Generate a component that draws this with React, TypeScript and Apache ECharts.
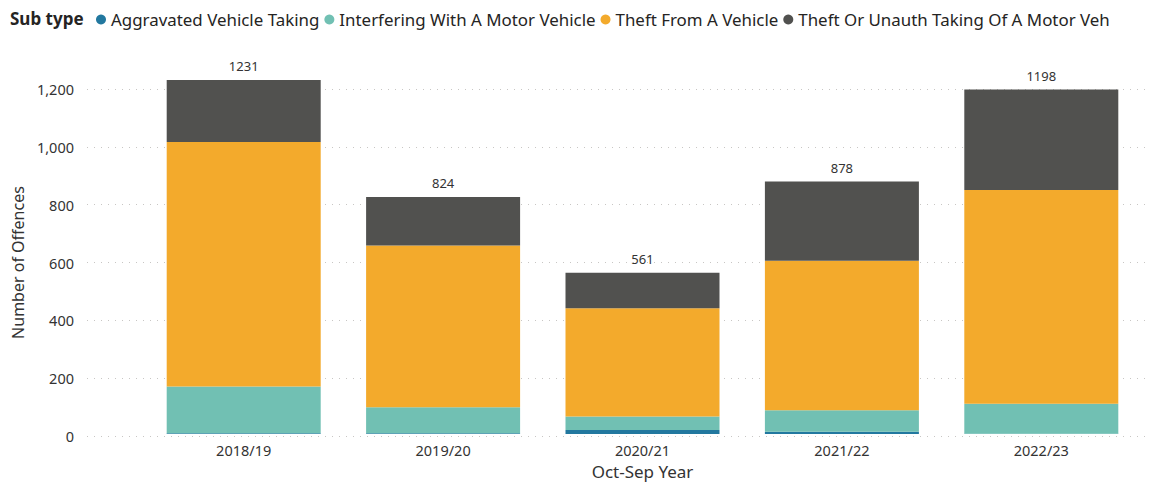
import React, { useEffect, useRef } from "react";
import * as echarts from "echarts";

const categories = ["2018/19", "2019/20", "2020/21", "2021/22", "2022/23"];
const aggravated = [3, 3, 14, 8, 1];
const interfering = [162, 90, 47, 75, 104];
const theftFrom = [850, 562, 376, 519, 743];
const theftOrUnauth = [216, 169, 124, 276, 350];
const seriesNames = [
  "Aggravated Vehicle Taking",
  "Interfering With A Motor Vehicle",
  "Theft From A Vehicle",
  "Theft Or Unauth Taking Of A Motor Veh",
];
const colors = ["#22789F", "#71C0B3", "#F3AA2C", "#51514F"];
const totals = categories.map(
  (_, i) => aggravated[i] + interfering[i] + theftFrom[i] + theftOrUnauth[i]
);

const FONT = "'Segoe UI', 'Noto Sans', sans-serif";

export default function App() {
  const ref = useRef<HTMLDivElement>(null);
  useEffect(() => {
    if (!ref.current) return;
    const chart = echarts.init(ref.current, null, { renderer: "svg" });
    const top0 = 89;
    const h0 = 347;
    const h1 = (h0 * 1300) / 1200;
    const top1 = top0 + h0 - h1;
    const data = [aggravated, interfering, theftFrom, theftOrUnauth];
    chart.setOption({
      animation: false,
      textStyle: { fontFamily: FONT },
      color: colors,
      legend: {
        left: 96,
        top: 11,
        icon: "circle",
        itemWidth: 10,
        itemHeight: 10,
        itemGap: 5,
        padding: 0,
        textStyle: { fontSize: 16.9, color: "#252423", fontFamily: FONT },
        data: seriesNames,
      },
      graphic: [
        {
          type: "text",
          left: 10,
          top: 10,
          style: { text: "Sub type", fontSize: 17, fontWeight: "bold", fill: "#252423", fontFamily: FONT },
        },
      ],
      grid: [
        { left: 144, width: 997, top: top1, height: h1 },
        { left: 87, right: 9, top: top0, height: h0 },
      ],
      xAxis: [
        {
          type: "category",
          gridIndex: 0,
          data: categories,
          axisLine: { show: false },
          axisTick: { show: false },
          axisLabel: { fontSize: 14.5, color: "#333333", margin: 8, fontFamily: FONT },
          name: "Oct-Sep Year",
          nameLocation: "middle",
          nameGap: 29,
          nameTextStyle: { fontSize: 17, color: "#333333", fontFamily: FONT },
        },
        {
          type: "category",
          gridIndex: 1,
          data: categories,
          show: false,
        },
      ],
      yAxis: [
        {
          type: "value",
          gridIndex: 0,
          min: 0,
          max: 1300,
          show: false,
          splitLine: { show: false },
        },
        {
          type: "value",
          gridIndex: 1,
          min: 0,
          max: 1200,
          interval: 200,
          axisLine: { show: false },
          axisTick: { show: false },
          axisLabel: {
            fontSize: 14.5,
            color: "#333333",
            margin: 13,
            fontFamily: FONT,
            formatter: (v: number) => v.toLocaleString("en-US"),
          },
          splitLine: { lineStyle: { color: "#C8C6C4", type: [1, 6], width: 1 } },
          name: "Number of Offences",
          nameLocation: "middle",
          nameGap: 60,
          nameTextStyle: { fontSize: 16, color: "#333333", fontFamily: FONT },
        },
      ],
      series: seriesNames.map((name, si) => ({
        name,
        type: "bar",
        stack: "total",
        xAxisIndex: 0,
        yAxisIndex: 0,
        barWidth: 154,
        data: data[si],
        itemStyle: { color: colors[si] },
        label:
          si === 3
            ? {
                show: true,
                position: "top",
                distance: 7,
                fontSize: 13,
                color: "#333333",
                fontFamily: FONT,
                formatter: (p: any) => String(totals[p.dataIndex]),
              }
            : { show: false },
      })),
    });
    return () => chart.dispose();
  }, []);
  return (
    <div
      ref={ref}
      style={{ position: "absolute", left: 0, top: 0, width: 1159, height: 485 }}
    />
  );
}
